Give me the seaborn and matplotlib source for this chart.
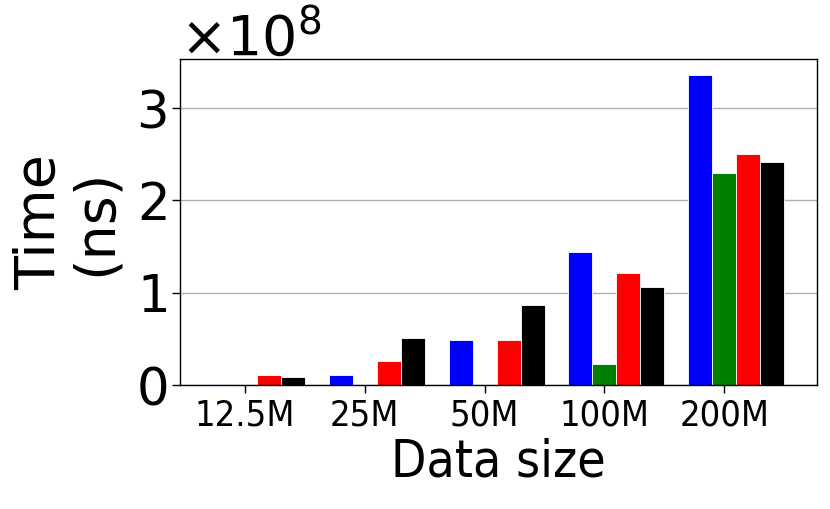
import matplotlib
matplotlib.use("Agg")
import matplotlib.pyplot as plt
import numpy as np
import pandas as pd
import seaborn as sns

# data (ns)
sizes = ["12.5M", "25M", "50M", "100M", "200M"]
methods = ["A", "B", "C", "D"]
colors = ["blue", "green", "red", "black"]
time_a = [0.015e8, 0.11e8, 0.49e8, 1.44e8, 3.36e8]
time_b = [np.nan, np.nan, np.nan, 0.23e8, 2.30e8]
time_c = [0.11e8, 0.255e8, 0.49e8, 1.21e8, 2.50e8]
time_d = [0.09e8, 0.51e8, 0.87e8, 1.06e8, 2.42e8]

df = pd.DataFrame({
    "size": sizes * 4,
    "method": np.repeat(methods, len(sizes)),
    "time": time_a + time_b + time_c + time_d,
})

sns.set_style("ticks")
plt.rcParams["font.family"] = ["DejaVu Sans"]
plt.rcParams["text.color"] = "black"
plt.rcParams["axes.labelcolor"] = "black"
plt.rcParams["xtick.color"] = "black"
plt.rcParams["ytick.color"] = "black"

fig = plt.figure(figsize=(8.3, 5.09), dpi=100)
ax = fig.add_axes([180 / 830, 1 - 385 / 509, (816.7 - 180) / 830, (385 - 59.3) / 509])

sns.barplot(data=df, x="size", y="time", hue="method", order=sizes,
            hue_order=methods, palette=colors, width=0.8, saturation=1,
            edgecolor="white", linewidth=0.6, legend=False, ax=ax)

ax.set_xticks(np.arange(len(sizes)) - 0.1)
ax.set_xticklabels(sizes, fontsize=26, fontstretch="condensed")
ax.set_xlim(-0.64, 4.67)
ax.set_ylim(0, 3.53e8)
ax.set_yticks([0, 1e8, 2e8, 3e8])

ax.ticklabel_format(axis="y", style="sci", scilimits=(0, 0), useMathText=True)
ax.yaxis.get_offset_text().set_fontsize(40)
ax.yaxis.grid(True, color="#b0b0b0", linewidth=1)
ax.set_axisbelow(True)

for s in ax.spines.values():
    s.set_color("black")
    s.set_linewidth(1)

ax.tick_params(axis="y", labelsize=37, length=6, width=1)
ax.tick_params(axis="x", length=6, width=1)
ax.set_xlabel("Data size", fontsize=37, fontstretch="condensed")
ax.set_ylabel("Time\n(ns)", fontsize=40, linespacing=1.05, labelpad=9)

fig.savefig("out.png", dpi=100)
